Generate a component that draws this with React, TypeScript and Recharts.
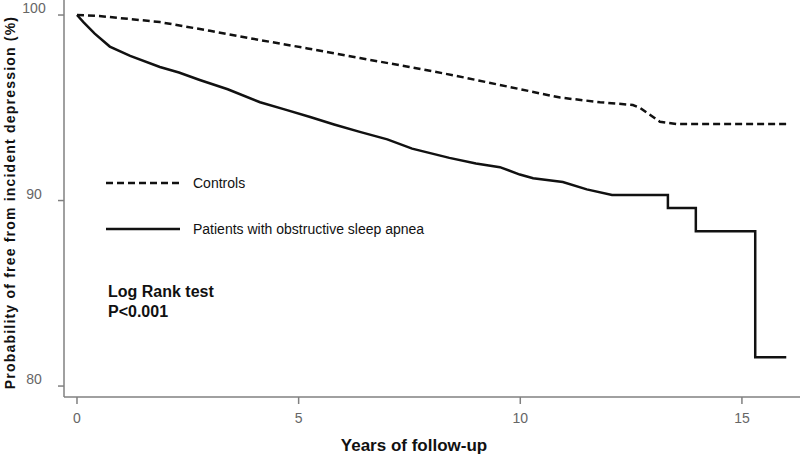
import React from "react";
import { Line, LineChart, XAxis, YAxis } from "recharts";

// Kaplan-Meier estimates (years, % free from depression)
const controlYears = [0, 0.5, 1.87, 3.0, 4.13, 5.2, 6.38, 7.5, 8.5, 9.54, 10.9, 11.8, 12.54, 12.7, 13.15, 13.53, 16.0];
const controlSurvival = [100, 99.95, 99.62, 99.15, 98.65, 98.2, 97.68, 97.2, 96.75, 96.23, 95.55, 95.3, 95.15, 95.0, 94.25, 94.12, 94.12];

const patientYears = [
  0, 0.15, 0.4, 0.74, 1.2, 1.87, 2.3, 2.77, 3.4, 4.13, 4.7, 5.26, 5.8, 6.38, 7.0, 7.56, 8.4, 9.0,
  9.54, 9.99, 10.29, 10.96, 11.5, 12.07, 13.33, 13.33, 13.96, 13.96, 15.3, 15.3, 16.0,
];
const patientSurvival = [
  100, 99.6, 99.0, 98.3, 97.8, 97.2, 96.9, 96.5, 96.0, 95.3, 94.9, 94.5, 94.1, 93.7, 93.3, 92.8, 92.3, 92.0,
  91.8, 91.4, 91.2, 91.0, 90.6, 90.3, 90.3, 89.6, 89.6, 88.35, 88.35, 81.55, 81.55,
];

const xTicks = [0, 5, 10, 15];
const yTicks = [80, 90, 100];

const seriesLabels = ["Controls", "Patients with obstructive sleep apnea"];

const controls = controlYears.map((t, i) => ({ t, s: controlSurvival[i] }));
const patients = patientYears.map((t, i) => ({ t, s: patientSurvival[i] }));

const FONT = "'Liberation Sans', Arial, sans-serif";
const AXIS = "#808080";

function XTick({ x, y, payload }: any) {
  return (
    <text x={x} y={y} dy={17} textAnchor="middle" fill="#666" fontSize={14} fontFamily={FONT}>
      {payload.value}
    </text>
  );
}

function YTick({ x, y, payload }: any) {
  return (
    <text x={x - 22} y={y} dy={-2} textAnchor="middle" fill="#666" fontSize={14} fontFamily={FONT}>
      {payload.value}
    </text>
  );
}

function XTitle({ viewBox }: any) {
  const cx = viewBox.x + viewBox.width / 2 - 18;
  return (
    <text x={cx} y={451} textAnchor="middle" fill="#111" fontSize={17} fontWeight={700} fontFamily={FONT}>
      Years of follow-up
    </text>
  );
}

function YTitle({ viewBox }: any) {
  const cy = viewBox.y + viewBox.height / 2 + 4;
  return (
    <text
      transform={`translate(15, ${cy}) rotate(-90)`}
      textAnchor="middle"
      fill="#111"
      fontSize={14}
      fontWeight={700}
      fontFamily={FONT}
      letterSpacing={1.2}
    >
      Probability of free from incident depression (%)
    </text>
  );
}

function KMLegend() {
  return (
    <svg width={400} height={70} style={{ position: "absolute", left: 106, top: 170 }}>
      <line x1={0} y1={13} x2={74} y2={13} stroke="#111" strokeWidth={2.5} strokeDasharray="7 4" />
      <text x={87} y={18} fontSize={14} fontFamily={FONT} fill="#111">
        {seriesLabels[0]}
      </text>
      <line x1={0} y1={59} x2={74} y2={59} stroke="#111" strokeWidth={2.5} />
      <text x={87} y={64} fontSize={14} fontFamily={FONT} fill="#111">
        {seriesLabels[1]}
      </text>
    </svg>
  );
}

export default function App() {
  return (
    <div style={{ position: "absolute", left: 0, top: 0, width: 800, height: 457, background: "#fff" }}>
      <LineChart width={800} height={457} data={controls} margin={{ top: 0, right: 0, left: 0, bottom: 0 }}>
        <XAxis
          dataKey="t"
          type="number"
          domain={[-0.293, 16.31]}
          allowDataOverflow
          ticks={xTicks}
          height={60}
          stroke={AXIS}
          strokeWidth={1.5}
          tickSize={7}
          tick={<XTick />}
          label={<XTitle />}
        />
        <YAxis
          dataKey="s"
          type="number"
          domain={[79.41, 100.81]}
          allowDataOverflow
          ticks={yTicks}
          width={64}
          stroke={AXIS}
          strokeWidth={1.5}
          tickSize={6}
          tick={<YTick />}
          label={<YTitle />}
        />
        <Line
          data={controls}
          dataKey="s"
          type="linear"
          stroke="#111"
          strokeWidth={2.5}
          strokeDasharray="7 4"
          dot={false}
          isAnimationActive={false}
        />
        <Line
          data={patients}
          dataKey="s"
          type="linear"
          stroke="#111"
          strokeWidth={2.5}
          dot={false}
          isAnimationActive={false}
        />
      </LineChart>
      <KMLegend />
      <div
        style={{
          position: "absolute",
          left: 108,
          top: 282,
          fontFamily: FONT,
          fontWeight: 700,
          fontSize: 16,
          lineHeight: "20px",
          color: "#111",
        }}
      >
        <div>Log Rank test</div>
        <div>P&lt;0.001</div>
      </div>
    </div>
  );
}
